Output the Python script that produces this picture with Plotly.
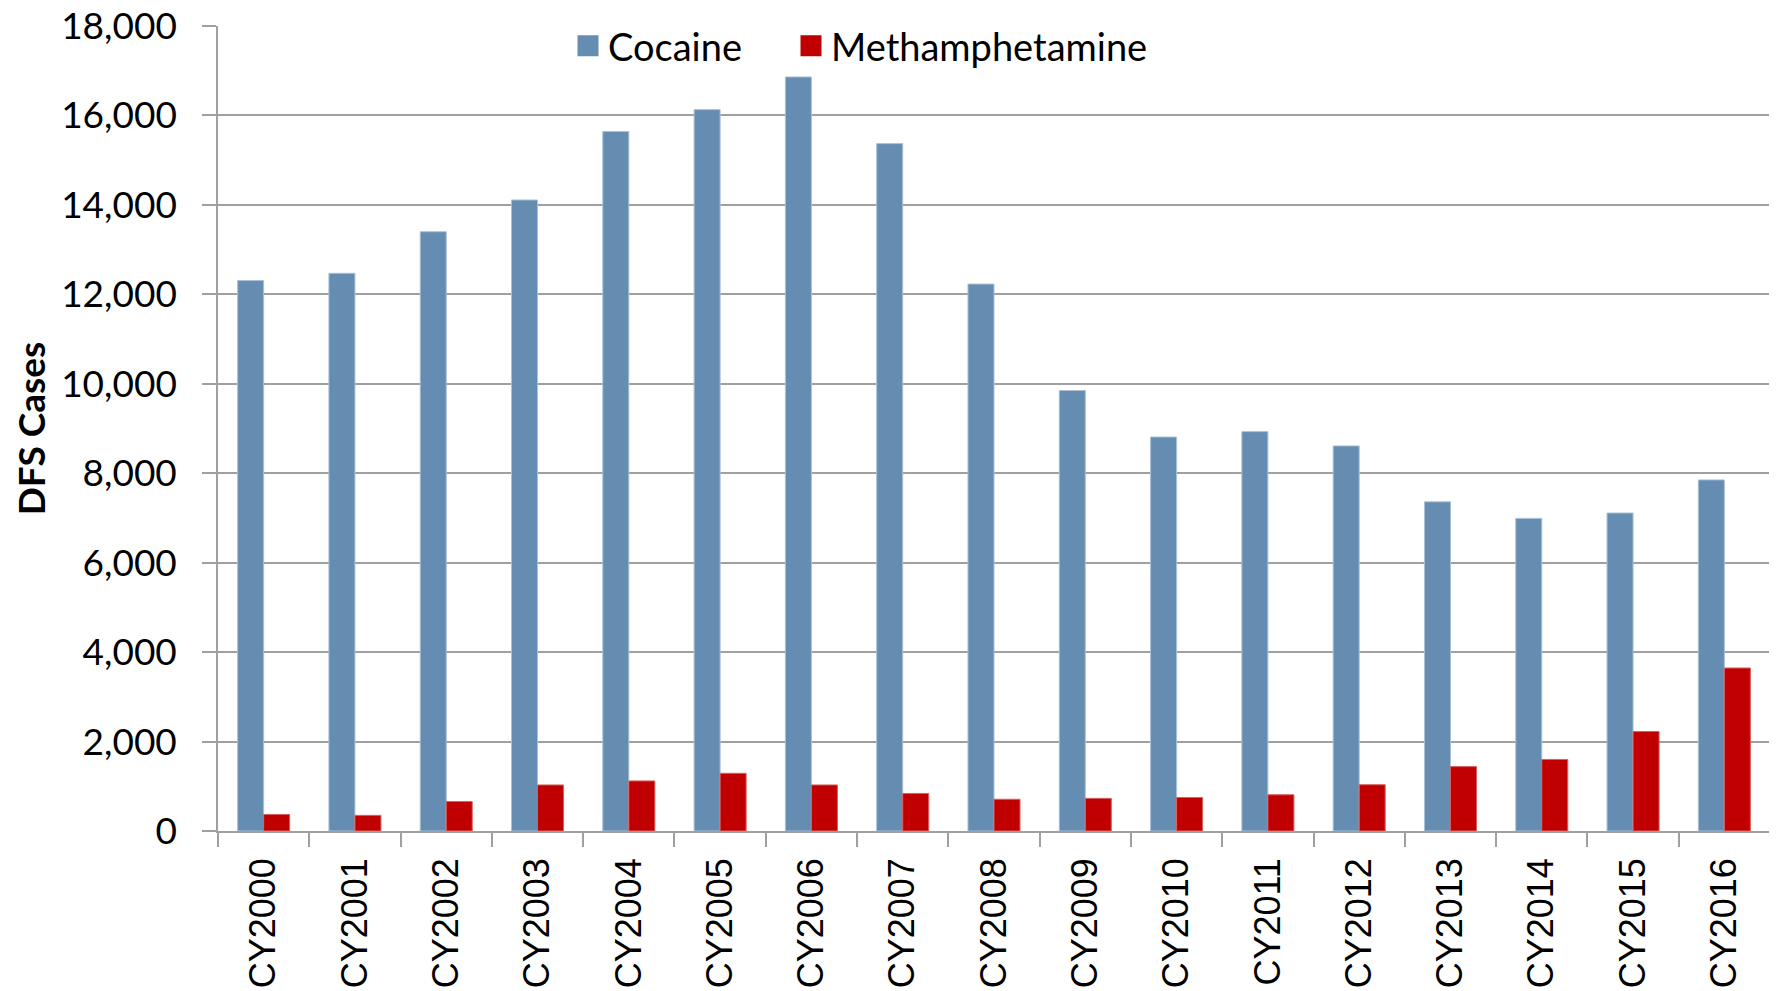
import plotly.graph_objects as go

categories = ["CY2000", "CY2001", "CY2002", "CY2003", "CY2004", "CY2005", "CY2006", "CY2007",
              "CY2008", "CY2009", "CY2010", "CY2011", "CY2012", "CY2013", "CY2014", "CY2015", "CY2016"]
cocaine = [12310, 12470, 13400, 14110, 15640, 16130, 16860, 15370,
           12230, 9850, 8810, 8930, 8610, 7360, 6990, 7110, 7850]
meth = [370, 350, 660, 1030, 1120, 1290, 1030, 840,
        710, 730, 750, 810, 1035, 1440, 1600, 2225, 3645]

COC = "#658CB1"
METH = "#C00000"
GRID = "#A0A0A0"

fig = go.Figure()
fig.add_trace(go.Bar(x=categories, y=cocaine, name="Cocaine", marker_color=COC,
                     marker_line=dict(width=1, color="#A9C0D6"), showlegend=False))
fig.add_trace(go.Bar(x=categories, y=meth, name="Methamphetamine", marker_color=METH,
                     marker_line=dict(width=1, color="#D96060"), showlegend=False))
# legend entries with larger square swatches
fig.add_trace(go.Scatter(x=[None], y=[None], mode="markers", name="Cocaine", legend="legend",
                         marker=dict(symbol="square", size=16, color=COC,
                                     line=dict(width=5, color=COC))))
fig.add_trace(go.Scatter(x=[None], y=[None], mode="markers", name="Methamphetamine", legend="legend2",
                         marker=dict(symbol="square", size=16, color=METH,
                                     line=dict(width=5, color=METH))))

# page body has an 8px margin, so the figure is sized/offset to compensate
W, H = 1769, 983
L, T, R, B = 210, 17, 7, 160
plot_w = W - L - R
plot_h = H - T - B

leg_common = dict(orientation="h", xref="paper", yref="paper", xanchor="left",
                  y=1 - 21 / plot_h, yanchor="middle",
                  font=dict(family="Lato", size=38), bgcolor="rgba(0,0,0,0)",
                  itemclick=False)

fig.update_layout(
    width=W, height=H,
    margin=dict(l=L, r=R, t=T, b=B),
    paper_bgcolor="white", plot_bgcolor="white",
    barmode="group", bargap=0.43, bargroupgap=0,
    font=dict(family="Lato", color="black"),
    legend=dict(x=350 / plot_w, **leg_common),
    legend2=dict(x=573 / plot_w, **leg_common),
    xaxis=dict(type="category", tickson="boundaries", ticks="outside", ticklen=14,
               tickcolor=GRID, tickwidth=1.5, showline=True, linecolor=GRID, linewidth=1.5,
               tickangle=-90, tickfont=dict(family="Liberation Sans", size=36, color="black"),
               showgrid=False, automargin=False, ticklabelstandoff=11,
               ticklabeloverflow="allow"),
    yaxis=dict(range=[0, 18000], dtick=2000, tickformat=",", ticks="outside", ticklen=14,
               tickcolor=GRID, tickwidth=1.5, showline=True, linecolor=GRID, linewidth=1.5,
               gridcolor=GRID, gridwidth=1.5, zeroline=False, ticklabelstandoff=18,
               automargin=False, ticklabeloverflow="allow",
               tickfont=dict(family="Lato", size=37, color="black"),
               title=dict(text="<b>DFS Cases</b>", font=dict(family="Lato", size=37, color="black"),
                          standoff=10)),
)

fig.write_html("out.html")
